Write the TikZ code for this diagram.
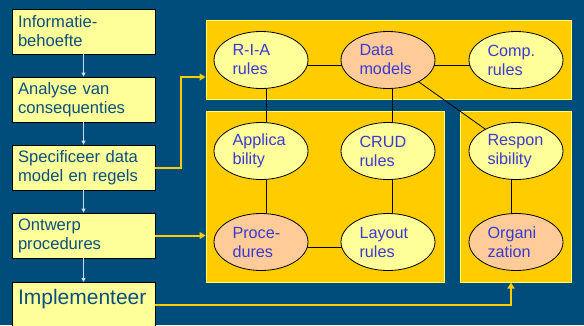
\documentclass[tikz,border=0pt]{standalone}
\usepackage{fontspec}
\setmainfont{Liberation Sans}
\usetikzlibrary{arrows.meta,shapes.geometric,calc}
\definecolor{bgblue}{HTML}{004C7A}
\definecolor{boxfill}{HTML}{FFFF99}
\definecolor{boxtext}{HTML}{0B4F7E}
\definecolor{grpfill}{HTML}{FFCC00}
\definecolor{grpline}{HTML}{FFFF66}
\definecolor{elltext}{HTML}{3A3AD2}
\definecolor{ellorange}{HTML}{FFCC99}
\definecolor{flowline}{HTML}{C8DCF0}
\pgfdeclarelayer{bg}
\pgfdeclarelayer{mid}
\pgfsetlayers{bg,mid,main}
\tikzset{
  stepbox/.style={draw=black, line width=0.8pt, fill=boxfill, text=boxtext,
    rectangle, minimum width=143pt, text width=131pt, inner xsep=6pt,
    minimum height=45pt, align=left, font=\fontsize{16.6}{19}\selectfont},
  grp/.style={draw=grpline, line width=1pt, fill=grpfill, rectangle, inner sep=0pt},
  ell/.style={ellipse, draw=black, line width=0.8pt, fill=boxfill, text=elltext,
    minimum width=94pt, minimum height=57pt, inner sep=0pt, text width=57pt,
    align=left, font=\fontsize{16.2}{19}\selectfont},
  ello/.style={ell, fill=ellorange},
  flow/.style={draw=flowline, line width=0.8pt, -{Triangle[length=4pt,width=4pt,fill=white]}},
  yarr/.style={draw=grpfill, line width=2pt, -{Triangle[length=6pt,width=7pt]}},
  link/.style={draw=black, line width=0.8pt}
}
\begin{document}
\begin{tikzpicture}[x=1pt,y=-1pt]
\useasboundingbox (0,0) rectangle (584,325);
\clip (0,0) rectangle (584,325);

% groups and background
\begin{pgfonlayer}{bg}
\fill[bgblue] (0,0) rectangle (584,325);
\node[grp, minimum width=365pt, minimum height=79pt] (topgrp) at (388.5,59.5) {};
\node[grp, minimum width=238pt, minimum height=171pt] (leftgrp) at (325,196.5) {};
\node[grp, minimum width=111pt, minimum height=171pt] (rightgrp) at (515.5,196.5) {};
\end{pgfonlayer}

% left process boxes
\node[stepbox] (info) at (83.5,31.5) {Informatie-\\behoefte};
\node[stepbox] (anal) at (83.5,99.5) {Analyse van\\consequenties};
\node[stepbox] (spec) at (83.5,167.5) {Specificeer data\\model en regels};
\node[stepbox] (ontw) at (83.5,235.5) {Ontwerp\\procedures};
\node[stepbox, anchor=north, font=\fontsize{21}{24}\selectfont, inner ysep=7pt,
      text depth=16pt, minimum height=0pt] (impl) at (83.5,282) {Implementeer};

\draw[flow] (info) -- (anal);
\draw[flow] (anal) -- (spec);
\draw[flow] (spec) -- (ontw);
\draw[flow] (ontw) -- (impl);

% ellipses
\node[ell]  (ria)   at (261,60)  {R-I-A\\rules};
\node[ello] (data)  at (388,60)  {Data\\models};
\node[ell]  (comp)  at (516,60)  {Comp.\\rules};
\node[ell]  (appl)  at (261,151) {Applica\\bility};
\node[ell]  (crud)  at (388,151) {CRUD\\rules};
\node[ell]  (resp)  at (516,151) {Respon\\sibility};
\node[ello] (proc)  at (261,242) {Proce-\\dures};
\node[ell]  (lay)   at (388,242) {Layout\\rules};
\node[ello] (org)   at (516,242) {Organi\\zation};

\begin{pgfonlayer}{mid}
\draw[link] ([yshift=-5pt]ria.center) -- ([yshift=-5pt]data.center);
\draw[link] ([yshift=-5pt]data.center) -- ([yshift=-5pt]comp.center);
\draw[link] ([xshift=5pt]ria.center) -- ([xshift=5pt]appl.center);
\draw[link] ([xshift=4pt]data.center) -- ([xshift=4pt]crud.center);
\draw[link] (data.center) -- (resp.center);
\draw[link] ([xshift=5pt]appl.center) -- ([xshift=5pt]proc.center);
\draw[link] ([xshift=4pt]crud.center) -- ([xshift=4pt]lay.center);
\draw[link] ([yshift=-5pt]proc.center) -- ([yshift=-5pt]lay.center);
\draw[link] ([xshift=-4.5pt]resp.center) -- ([xshift=-4.5pt]org.center);
\end{pgfonlayer}

% yellow connectors
\draw[yarr] (spec.east) -- ++(26,0) |- ([yshift=-17.5pt]topgrp.west);
\draw[yarr] (ontw.east) -- (ontw.east -| leftgrp.west);
\draw[yarr] (impl.east) -| ([xshift=-4.5pt]rightgrp.south);
\end{tikzpicture}
\end{document}
